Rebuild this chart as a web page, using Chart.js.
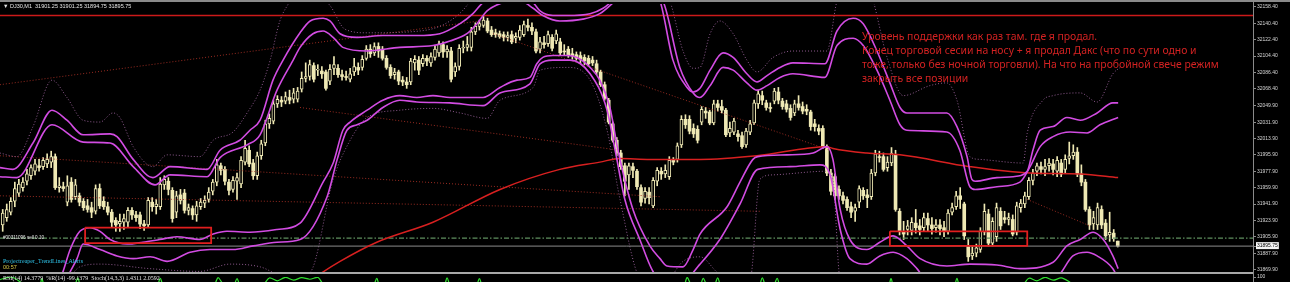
<!DOCTYPE html>
<html><head><meta charset="utf-8">
<script src="https://cdn.jsdelivr.net/npm/chart.js@4.4.1/dist/chart.umd.min.js"></script>
<style>
html,body{margin:0;padding:0;background:#000;overflow:hidden;width:1290px;height:282px;}
#wrap{position:relative;width:1290px;height:282px;background:#000;overflow:hidden;}
canvas{position:absolute;left:0;}
.t{position:absolute;white-space:nowrap;font-family:'Liberation Sans',sans-serif;}
</style></head><body>
<div id="wrap">
<canvas id="c1" width="1290" height="276" style="top:0"></canvas>
<canvas id="c2" width="1290" height="40" style="top:273px"></canvas>
<div style="position:absolute;left:0;top:0;width:1290px;height:2px;background:#8a8a8a"></div>
<div style="position:absolute;left:0;top:272px;width:1253px;height:2px;background:#a8a8a8"></div>
<div style="position:absolute;left:1253px;top:0;width:1px;height:282px;background:#8a8a8a"></div>
<div class="t" style="left:3px;top:3px;font-size:5.5px;line-height:6px;color:#e6e6e6">▼ DJ30,M1&nbsp; 31901.25 31901.25 31894.75 31895.75</div>
<div class="t" style="left:3px;top:235px;font-size:4.6px;line-height:5px;color:#e6e6e6">#00311096 sell 0.10</div>
<div class="t" style="left:3px;top:258px;font-size:6px;line-height:6px;color:#2fc4ea;font-family:'Liberation Serif',serif">Projectreaper_TrendLines_Alerts</div>
<div class="t" style="left:3px;top:264px;font-size:5.5px;line-height:6px;color:#d8c848">00:57</div>
<div class="t" style="left:3px;top:275px;font-size:6px;line-height:6px;color:#e6e6e6;font-family:'Liberation Serif',serif">RSI(14) 14.3779&nbsp; %R(14) -99.1379&nbsp; Stoch(14,3,3) 1.4311 2.0592</div>
<div class="t" style="left:862px;top:29px;font-size:10.4px;line-height:14px;color:#d42222;font-family:'Noto Sans',sans-serif">Уровень поддержки как раз там. где я продал.<br>Конец торговой сесии на носу + я продал Дакс (что по сути одно и<br>тоже, только без ночной торговли). На что на пробойной свече режим<br>закрыть все позиции</div>
</div>
<script>
// ---- candles (M1) ----
const OPEN=[31919,31927,31933,31945,31954,31960,31967,31973,31978,31984,
31983,31986,31988,31994,31960,31961,31944,31966,31950,31951,
31945,31940,31938,31934,31959,31945,31939,31933,31924,31920,
31922,31922,31935,31930,31930,31920,31919,31944,31939,31939,
31963,31967,31957,31933,31952,31954,31935,31937,31930,31939,
31943,31947,31956,31966,31984,31980,31966,31958,31967,31964,
31988,32001,31987,31973,31995,32009,32030,32033,32052,32056,
32055,32059,32057,32057,32068,32080,32082,32094,32089,32088,
32087,32077,32091,32091,32084,32082,32079,32087,32092,32092,
32102,32112,32108,32115,32112,32102,32092,32084,32087,32078,
32076,32076,32097,32100,32096,32102,32097,32103,32108,32117,
32109,32110,32087,32093,32113,32114,32114,32131,32137,32138,
32143,32133,32130,32129,32128,32125,32128,32124,32125,32128,
32138,32136,32131,32112,32119,32118,32125,32121,32120,32110,
32112,32107,32106,32105,32103,32102,32100,32096,32087,32073,
32056,32030,32012,31998,31984,31974,31983,31978,31960,31948,
31955,31940,31967,31978,31975,31972,31990,31991,32007,32035,
32035,32025,32024,32032,32044,32043,32031,32052,32049,32045,
32020,32021,32019,32017,32007,32021,32031,32052,32061,32053,
32048,32055,32065,32055,32052,32047,32042,32052,32049,32046,
32043,32030,32025,32025,32005,31976,31972,31958,31951,31947,
31939,31934,31944,31957,31952,31950,31976,31994,31994,31982,
31987,31996,31934,31912,31914,31913,31921,31918,31916,31926,
31919,31916,31919,31916,31912,31933,31939,31951,31942,31896,
31885,31888,31892,31911,31931,31899,31906,31934,31927,31925,
31925,31911,31938,31942,31950,31968,31978,31983,31980,31984,
31986,31978,31987,31980,31992,31995,31999,31975,31966,31936,
31920,31919,31936,31921,31908,31910,31901.25];
const HIGH=[31936,31942,31949,31966,31969,31971,31980,31985,31991,31991,
31993,31997,32000,31997,31971,31966,31973,31971,31969,31954,
31948,31947,31944,31963,31964,31950,31944,31936,31927,31931,
31931,31938,31938,31934,31933,31924,31949,31949,31947,31971,
31973,31971,31960,31956,31958,31958,31942,31940,31945,31948,
31951,31960,31969,31991,31987,31983,31969,31972,31976,31994,
32012,32006,31991,31999,32012,32034,32041,32056,32061,32060,
32065,32067,32069,32070,32087,32097,32100,32097,32095,32093,
32089,32095,32104,32095,32089,32088,32091,32102,32097,32105,
32116,32117,32119,32119,32115,32105,32095,32091,32089,32082,
32081,32102,32105,32104,32106,32105,32108,32116,32121,32120,
32116,32114,32097,32117,32121,32126,32136,32141,32144,32148,
32146,32137,32134,32132,32131,32131,32132,32130,32138,32143,
32145,32141,32134,32125,32126,32132,32128,32133,32124,32117,
32115,32113,32109,32109,32106,32105,32104,32100,32089,32076,
32058,32032,32015,32001,31987,31987,31987,31980,31963,31960,
31960,31971,31982,31982,31985,31994,31993,32009,32039,32040,
32039,32030,32028,32049,32048,32045,32056,32056,32056,32047,
32032,32036,32023,32021,32025,32034,32056,32067,32066,32056,
32053,32069,32070,32058,32056,32051,32056,32061,32054,32051,
32045,32035,32029,32028,32007,31980,31975,31962,31955,31950,
31944,31942,31962,31960,31958,31980,32001,32000,31998,31994,
32004,32001,31937,31923,31924,31927,31936,31925,31932,31932,
31927,31925,31925,31923,31936,31943,31956,31960,31944,31903,
31895,31898,31916,31942,31936,31927,31943,31938,31934,31932,
31930,31944,31947,31955,31971,31980,31987,31988,31991,31992,
31991,31994,31991,31996,32010,32007,32004,31985,31969,31939,
31934,31943,31940,31925,31933,31914,31901.25];
const LOW=[31912,31923,31930,31939,31950,31956,31963,31969,31974,31978,
31980,31982,31982,31958,31955,31956,31940,31944,31947,31940,
31935,31933,31927,31931,31937,31936,31930,31916,31912,31912,
31914,31916,31925,31923,31915,31913,31916,31934,31931,31936,
31958,31952,31922,31927,31942,31932,31930,31925,31923,31936,
31938,31944,31952,31962,31974,31963,31952,31955,31947,31960,
31985,31983,31969,31969,31991,32006,32025,32030,32048,32049,
32052,32052,32053,32054,32065,32076,32078,32076,32083,32080,
32067,32073,32084,32081,32078,32078,32076,32083,32084,32089,
32100,32103,32105,32103,32100,32090,32080,32079,32073,32072,
32069,32073,32089,32084,32093,32094,32093,32100,32104,32103,
32103,32076,32082,32089,32108,32110,32110,32128,32133,32136,
32130,32126,32125,32124,32121,32121,32118,32119,32122,32126,
32132,32128,32108,32108,32113,32115,32110,32118,32106,32105,
32103,32101,32100,32097,32095,32094,32094,32084,32071,32056,
32030,32010,31995,31980,31951,31958,31971,31958,31940,31943,
31942,31938,31962,31969,31971,31969,31985,31988,32004,32025,
32019,32015,32009,32029,32036,32029,32029,32044,32042,32016,
32016,32018,32011,32003,32004,32018,32029,32047,32051,32045,
32043,32052,32052,32046,32043,32034,32039,32045,32041,32040,
32023,32022,32018,32003,31973,31952,31947,31947,31942,31935,
31927,31923,31938,31947,31938,31947,31973,31988,31978,31978,
31984,31934,31908,31903,31908,31908,31910,31908,31912,31912,
31909,31911,31908,31906,31909,31930,31936,31937,31903,31879,
31881,31884,31889,31908,31896,31896,31901,31914,31921,31919,
31907,31908,31933,31938,31947,31963,31973,31975,31973,31978,
31974,31972,31972,31976,31986,31991,31972,31962,31934,31914,
31914,31914,31915,31903,31901,31901,31894.75];
const CLOSE=[31932,31936,31945,31959,31964,31966,31975,31982,31986,31982,
31990,31991,31994,31960,31962,31959,31962,31947,31963,31944,
31938,31936,31933,31959,31940,31939,31933,31922,31919,31923,
31926,31935,31930,31927,31920,31918,31946,31939,31942,31964,
31969,31958,31926,31951,31946,31935,31938,31930,31940,31944,
31946,31955,31966,31985,31979,31967,31957,31968,31971,31990,
32003,31986,31973,31995,32008,32030,32036,32052,32057,32054,
32060,32056,32064,32066,32080,32082,32095,32079,32090,32085,
32069,32090,32095,32084,32082,32081,32085,32093,32089,32101,
32112,32107,32115,32110,32102,32092,32083,32087,32077,32076,
32073,32099,32101,32089,32102,32099,32104,32112,32118,32109,
32112,32079,32093,32113,32114,32117,32131,32137,32140,32144,
32132,32128,32128,32126,32125,32127,32120,32126,32133,32139,
32136,32132,32110,32120,32117,32128,32113,32129,32108,32109,
32105,32105,32102,32101,32099,32096,32097,32087,32073,32058,
32032,32012,31998,31983,31967,31984,31979,31961,31944,31956,
31949,31968,31979,31975,31979,31990,31988,32006,32035,32029,
32022,32019,32012,32046,32042,32031,32052,32048,32045,32018,
32025,32033,32016,32005,32022,32030,32053,32063,32056,32048,
32047,32066,32056,32049,32046,32037,32052,32048,32044,32044,
32027,32027,32022,32005,31976,31956,31951,31951,31946,31938,
31933,31938,31959,31951,31949,31976,31997,31993,31980,31988,
31998,31936,31912,31909,31918,31922,31916,31914,31927,31919,
31915,31919,31915,31912,31932,31938,31951,31947,31907,31884,
31888,31894,31912,31934,31899,31923,31938,31918,31925,31927,
31909,31940,31943,31951,31968,31976,31984,31980,31983,31987,
31980,31990,31975,31991,31995,31999,31975,31966,31936,31919,
31927,31938,31919,31907,31911,31904,31895.75];

// ---- indicator lines (sparse readings: bar index, price) ----
const UA_X=[-0.7,2.5,7.5,12.2,15.9,19.9,26.6,28.3,32.3,37.2,41.4,50.6,53.8,58.7,61.2,63.7,66.9,69.4,73.6,76.1,79.3,81,83.5,87.7,94.1,102.5,108.2,113.2,116.4,118.6,123.1,128,131.3,133,136.2,139.7,145.4,148.6,150.8,152.8,157.7,162.7,165.9,169.4,170.9,172.6,175.1,178.3,180.8,184.2,186.7,189.2,192.4,195.6,203.5,206.5,210.5,213,216.4,219.6,222.1,223.8,233.7,236.2,238.7,239.9,240.7,246.1,250.1,253.6,255,256.8,260,263.4,266.7,270.9,274.8,276.1];
const UA_Y=[31982,31980,32009,32045,32034,32018,32019,32016,31991,31971,31983,31980,32001,32012,32023,32034,32078,32100,32130,32143,32146,32143,32129,32125,32127,32127,32129,32140,32151,32162,32176,32170,32163,32154,32149,32149,32151,32157,32165,32176,32187,32165,32100,32070,32065,32069,32089,32108,32103,32085,32076,32083,32092,32097,32096,32132,32146,32140,32110,32075,32048,32042,32042,32027,31994,31969,31967,31971,31972,31978,32001,32023,32027,32037,32034,32042,32053,32053];
const UB_X=[-0.7,3.5,12.2,19.9,26.6,32.3,37.7,41.4,50.6,53.8,60.5,63.7,67.9,71.9,73.6,76.8,79.3,81.8,84.2,90.2,98.3,106.5,110.7,114.9,117.4,119.9,123.1,128,131.3,133.7,137.9,143.6,147.8,151.1,152.8,157.7,163.4,167.6,170.9,172.6,175.1,178.3,180.8,184.2,186.7,189.2,192.4,195.6,203.5,206.5,210.5,213,216.4,219.6,222.1,223.8,233.7,236.9,239.4,240.7,246.1,251.8,254.3,256.8,260,264.2,268.4,271.6,276.1];
const UB_Y=[31972,31971,32029,32010,32009,31983,31963,31974,31972,31993,32007,32018,32067,32100,32114,32129,32132,32125,32114,32110,32114,32116,32121,32129,32140,32154,32162,32165,32157,32149,32143,32145,32151,32163,32170,32181,32165,32092,32064,32059,32072,32092,32089,32075,32067,32072,32081,32085,32081,32116,32124,32116,32089,32056,32029,32023,32021,32001,31961,31958,31961,31966,31983,32005,32016,32021,32020,32029,32037];
const LA_X=[-0.7,12.9,14.7,16.7,19.1,21.6,24.1,26.6,30.8,34.7,38.9,43.1,48.8,52.1,55.5,61.2,67.9,73.6,79.3,81.8,84.2,86,90.2,94.1,98.3,102.5,106.5,110.7,118.9,123.1,127.3,130.5,132.2,133.7,136.2,139.7,142.1,145.4,147.8,150.3,152.3,156,160.2,162.7,164.4,168.4,170.9,172.6,179.3,182.5,185.7,186.9,194.1,200.6,204,205.5,207.3,209.7,213.9,217.1,220.4,223.8,227.1,233.7,239.4,246.1,251.8,260,263.4,266.7,269.9,272.4,274.8,276.1];
const LA_Y=[31849,31849,31865,31892,31912,31916,31912,31903,31898,31900,31903,31906,31903,31909,31912,31911,31914,31921,31966,31987,32023,32032,32045,32056,32061,32059,32061,32059,32059,32070,32078,32081,32096,32103,32105,32105,32103,32092,32078,32048,32001,31936,31896,31882,31874,31873,31892,31909,31939,31966,31991,31994,31996,31998,32005,31991,31936,31903,31892,31900,31907,31896,31882,31874,31876,31875,31871,31878,31896,31903,31911,31903,31885,31871];
const LB_X=[-0.7,14.2,15.9,18.4,19.9,24.1,28.3,32.3,36.5,40.7,46.4,51.3,57,62,67.9,73.6,80.3,82.8,85.2,87.7,90.2,94.1,98.3,102.5,110.7,118.9,123.1,130.5,133,136.2,140.4,145.4,149.6,151.6,154,157.7,161.4,167.6,172.6,177.5,182.5,186.9,194.9,202.3,204.8,207.3,209.7,213.9,217.1,220.4,223.8,226.3,229.5,259.2,261.7,264.9,268.4,270.9,274.8,276.1];
const LB_Y=[31838,31838,31860,31882,31898,31892,31885,31882,31884,31879,31889,31892,31892,31896,31900,31903,31950,31991,32023,32029,32034,32048,32056,32054,32053,32050,32064,32074,32096,32100,32100,32085,32045,32001,31947,31903,31865,31854,31876,31903,31942,31980,31983,31985,31974,31914,31882,31876,31885,31889,31882,31871,31854,31854,31865,31885,31889,31885,31871,31860];
const DU_X=[-0.7,3.5,7.5,12.2,15.9,19.9,24.1,27.3,29,32.3,37.2,40.7,48.8,52.1,57,60.5,63.7,66.2,68.6,71.1,73.6,81,84.7,90.2,103.3,110.7,115.7,118.1,157.7,165.1,168.4,170.9,172.6,175.1,177.5,180.8,184.2,186.7,190.7,195.6,204,206.5,209.7,214.7,218.9,222.9,229.5,233.7,236.2,239.4,241.9,252.6,253.6,257.5,260,266.7,270.9,274.8,276.6];
const DU_Y=[31998,31994,32027,32078,32059,32034,32032,32042,32037,32005,31983,31996,31994,32012,32021,32042,32067,32100,32143,32165,32187,32160,32134,32130,32132,32143,32165,32187,32198,32165,32110,32091,32092,32129,32143,32129,32100,32087,32103,32110,32110,32165,32198,32176,32103,32061,32072,32075,32056,31994,31991,31987,32020,32056,32061,32064,32054,32085,32092];
const DL_X=[-0.7,14.2,19.1,24.1,36.5,48.8,56.3,63.7,71.1,76.1,81.8,86,90.2,98.3,106.5,113.2,119.9,123.1,131.3,133,139.7,145.4,149.6,152.8,157.7,162.7,168.4,172.6,177.5,185,187.4,190.7,204,205.5,207.3,276.6];
const DL_Y=[31838,31849,31873,31876,31871,31868,31876,31873,31860,31867,31969,32012,32037,32045,32047,32042,32036,32056,32070,32089,32092,32078,32023,31947,31860,31849,31879,31884,31865,31860,31969,31974,31978,31969,31860,31838];
const MA_X=[73.6,78.5,83.5,92.6,106.5,123.1,137.9,147.8,152.8,160.2,172.6,186.7,204,205.5,213.9,222.1,239.4,254.3,266.7,276.1];
const MA_Y=[31849,31865,31879,31900,31922,31958,31980,31988,31992,31991,31991,31995,32005,32003,31998,31996,31983,31976,31975,31971];
// dotted trend lines: [x1,y1,x2,y2]
const TRENDS=[[-0.7,32073,118.1,32143],[-0.7,31951,187.4,31934],[-0.7,31995,162.7,31950],[121.4,32129,204.8,32001],[73.6,32048,152.8,32001],[253.6,31947,269.1,31918]];
// horizontal levels
const RED_LEVEL=32149, ORDER_LEVEL=31904.5, BID=31895.75;
// boxes [x1,x2,priceTop,priceBottom]
const BOXES=[[20.4,51.6,31916,31899],[219.6,253.6,31912,31896]];
const YTICKS=[31869.9,31887.9,31895.75,31905.9,31923.9,31941.9,31959.9,31977.9,31995.9,32013.9,32031.9,32049.9,32068.4,32086.4,32104.4,32122.4,32140.4,32158.4];
// RSI window
const RSI_X=[-0.7,1.5,3,5,9,9.7,10.5,17.5,18.6,19.5,38,39,40,52,53.3,54.5,57,58,59,64,66,68,70,72,74,76,78,80,91.5,92.6,93.5,109,110,111,117,118,119,168,169.4,170.5,172.5,173.4,174.5,176,177,178,187,188,189,190.7,191.7,192.7,219,219.9,220.8,235.3,236.2,237.2,252,254,256,258,260,262,264,265.5,276];
const RSI_V=[92,99,96,80,70,95,70,70,97,70,70,96,70,70,98,80,70,95,70,70,97,88,99,90,98,93,99,70,70,96,70,70,97,70,70,95,70,60,98,75,70,96,70,70,97,70,70,97,70,70,96,70,70,95,65,70,96,65,70,96,88,99,90,97,85,70,40];

const CANDLE='#efe9b4';
const XMIN=-0.668, XMAX=309.48;
const pts=(xs,ys)=>xs.map((x,k)=>({x:x,y:ys[k]}));
const idx=OPEN.map((_,i)=>i);
const wick=idx.map(i=>({x:i,y:[LOW[i],HIGH[i]]}));
const body=idx.map(i=>({x:i,y:[Math.min(OPEN[i],CLOSE[i]),Math.max(OPEN[i],CLOSE[i])]}));
const bull=idx.map(i=>CLOSE[i]>=OPEN[i]);

function band(data,color,width,dash,order){return {type:'line',data:data,borderColor:color,borderWidth:width,borderDash:dash||[],pointRadius:0,fill:false,tension:0.4,cubicInterpolationMode:'monotone',order:order||1};}
const MAG='#d24ce2';
const datasets=[
 {type:'bar',data:wick,backgroundColor:CANDLE,barThickness:1,grouped:false,order:6,borderWidth:0},
 {type:'bar',data:body,backgroundColor:idx.map(i=>bull[i]?'#000':CANDLE),borderColor:CANDLE,borderWidth:idx.map(i=>bull[i]?1:0),borderSkipped:false,barThickness:3,grouped:false,order:5},
 band(pts(DU_X,DU_Y),'rgba(150,95,150,0.95)',1,[1,2],3),
 band(pts(DL_X,DL_Y),'rgba(150,95,150,0.95)',1,[1,2],3),
 band(pts(UA_X,UA_Y),MAG,1.6),
 band(pts(UB_X,UB_Y),MAG,1.6),
 band(pts(LA_X,LA_Y),MAG,1.6),
 band(pts(LB_X,LB_Y),MAG,1.6),
 band(pts(MA_X,MA_Y),'#d82020',1.5,null,2),
];
TRENDS.forEach(t=>datasets.push({type:'line',data:[{x:t[0],y:t[1]},{x:t[2],y:t[3]}],borderColor:'rgba(160,45,35,0.95)',borderWidth:1,borderDash:[1,2],pointRadius:0,order:4}));
datasets.push({type:'line',data:[{x:XMIN,y:RED_LEVEL},{x:XMAX,y:RED_LEVEL}],borderColor:'#cc1a1a',borderWidth:1.3,pointRadius:0,order:2});
datasets.push({type:'line',data:[{x:XMIN,y:ORDER_LEVEL},{x:XMAX,y:ORDER_LEVEL}],borderColor:'#5f8f5f',borderWidth:1.3,borderDash:[5,2,1.5,2],pointRadius:0,order:2});
datasets.push({type:'line',data:[{x:XMIN,y:BID},{x:XMAX,y:BID}],borderColor:'#8c8c8c',borderWidth:1,pointRadius:0,order:2});
BOXES.forEach(b=>datasets.push({type:'line',data:[{x:b[0],y:b[2]},{x:b[1],y:b[2]},{x:b[1],y:b[3]},{x:b[0],y:b[3]},{x:b[0],y:b[2]}],borderColor:'#e01e1e',borderWidth:1.8,pointRadius:0,tension:0,order:0}));

new Chart(document.getElementById('c1'),{
 type:'bar',
 data:{datasets:datasets},
 options:{responsive:false,animation:false,events:[],
  layout:{padding:{top:3,bottom:3,left:0,right:0}},
  plugins:{legend:{display:false},tooltip:{enabled:false}},
  scales:{
   x:{type:'linear',min:XMIN,max:XMAX,display:false,offset:false},
   y:{position:'right',min:31867.33,max:32161.63,
      afterFit:s=>{s.width=37;},
      afterBuildTicks:s=>{s.ticks=YTICKS.map(v=>({value:v}));},
      ticks:{autoSkip:false,padding:1,crossAlign:'near',callback:v=>Number(v).toFixed(2),
        font:{family:'Liberation Sans',size:5},
        color:c=>(c.tick&&c.tick.value===BID)?'#000':'#d6d6d6',
        showLabelBackdrop:c=>!!(c.tick&&c.tick.value===BID),
        backdropColor:'#f4f4f4',backdropPadding:{left:1,right:1,top:1,bottom:0}},
      grid:{drawOnChartArea:false,tickLength:3,color:'#8a8a8a'},
      border:{display:true,color:'#8a8a8a'}}
  }
 }
});

new Chart(document.getElementById('c2'),{
 type:'line',
 data:{datasets:[{data:pts(RSI_X,RSI_V),borderColor:'#2fe02f',borderWidth:1.2,pointRadius:0,tension:0.3}]},
 options:{responsive:false,animation:false,events:[],
  layout:{padding:{top:3,bottom:0,left:0,right:0}},
  plugins:{legend:{display:false},tooltip:{enabled:false}},
  scales:{
   x:{type:'linear',min:XMIN,max:XMAX,display:false},
   y:{position:'right',min:0,max:100,
      afterFit:s=>{s.width=37;},
      afterBuildTicks:s=>{s.ticks=[{value:100},{value:50},{value:0}];},
      ticks:{autoSkip:false,padding:1,crossAlign:'near',font:{family:'Liberation Sans',size:5},color:'#d6d6d6'},
      grid:{drawOnChartArea:false,tickLength:3,color:'#8a8a8a'},
      border:{display:true,color:'#8a8a8a'}}
  }
 }
});
</script>
</body></html>
